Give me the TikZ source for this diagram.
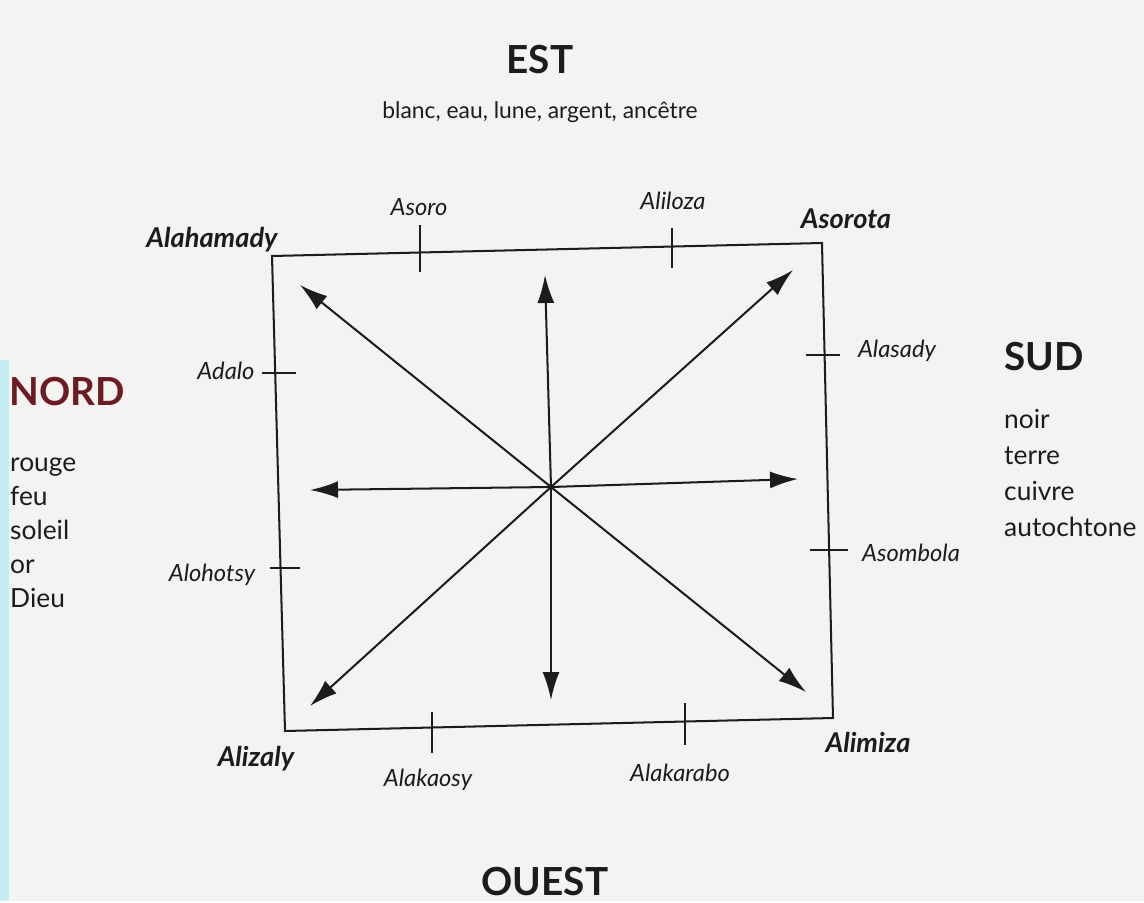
\documentclass[tikz,border=0pt]{standalone}
\usepackage{fontspec}
\setmainfont{Lato}
\usetikzlibrary{arrows.meta}
\definecolor{ink}{HTML}{1C1C1C}
\definecolor{paper}{HTML}{F3F3F1}
\definecolor{nordred}{HTML}{6E1A22}
\definecolor{scan}{HTML}{C4EEF3}

\begin{document}
\begin{tikzpicture}[x=0.02cm,y=-0.02cm,text=ink,>={Latex[length=0.56cm,width=0.34cm]},
  dir/.style={font=\bfseries\fontsize{22}{24}\selectfont},
  word/.style={font=\fontsize{15}{17}\selectfont},
  place/.style={font=\itshape\fontsize{13.5}{15}\selectfont},
  corner/.style={font=\bfseries\itshape\fontsize{15.5}{17}\selectfont},
  frame/.style={draw=ink,line width=1.15pt},
  ray/.style={->,draw=ink,line width=1.15pt}]
  \fill[paper] (0,0) rectangle (1144,901);
  \fill[scan] (0,360) rectangle (9,901);

  % the four directions
  \node[dir] (est) at (540,60) {EST};
  \node[font=\fontsize{13}{15}\selectfont] (estw) at (540,112) {blanc, eau, lune, argent, ancêtre};
  \node[dir] (ouest) at (545,882) {OUEST};
  \node[dir,text=nordred,anchor=west] (nord) at (3,392) {NORD};
  \node[dir,anchor=west] (sud) at (998,357) {SUD};
  \foreach \w [count=\i] in {rouge,feu,soleil,or,Dieu}
    \node[word,anchor=base west] (n\i) at (4,{437+34*\i}) {\w};
  \foreach \w [count=\i] in {noir,terre,cuivre,autochtone}
    \node[word,anchor=base west] (s\i) at (998,{392+36*\i}) {\w};

  % frame and rays
  \coordinate (nw) at (272,256);
  \coordinate (ne) at (822,243);
  \coordinate (se) at (833,718);
  \coordinate (sw) at (285,731);
  \draw[frame] (nw) -- (ne) -- (se) -- (sw) -- cycle;
  \coordinate (c) at (551,487);
  \foreach \t/\x/\y in {tnw/300/285,tn/545/275,tne/793/270,tw/310/490,
                        te/798/479,tsw/310/706,ts/551/700,tse/806/692}{
    \coordinate (\t) at (\x,\y);
    \draw[ray] (c) -- (\t);
  }

  % ticks on the frame
  \foreach \xa/\ya/\xb/\yb in {420/225/420/272,672/228/672/268,262/373/296/373,270/568/300/568,
                               806/355/840/355,810/550/848/550,432/712/432/753,685/703/685/745}
    \draw[frame] (\xa,\ya) -- (\xb,\yb);

  \node[place] (asoro) at (419,207) {Asoro};
  \node[place] (aliloza) at (673,201) {Aliloza};
  \node[place] (adalo) at (226,371) {Adalo};
  \node[place] (alohotsy) at (212,575) {Alohotsy};
  \node[place] (alasady) at (897,351) {Alasady};
  \node[place] (asombola) at (911,553) {Asombola};
  \node[place] (alakaosy) at (428,780) {Alakaosy};
  \node[place] (alakarabo) at (680,773) {Alakarabo};

  \node[corner] (alahamady) at (212,240) {Alahamady};
  \node[corner] (asorota) at (846,219) {Asorota};
  \node[corner] (alizaly) at (256,759) {Alizaly};
  \node[corner] (alimiza) at (868,742) {Alimiza};
\end{tikzpicture}
\end{document}
